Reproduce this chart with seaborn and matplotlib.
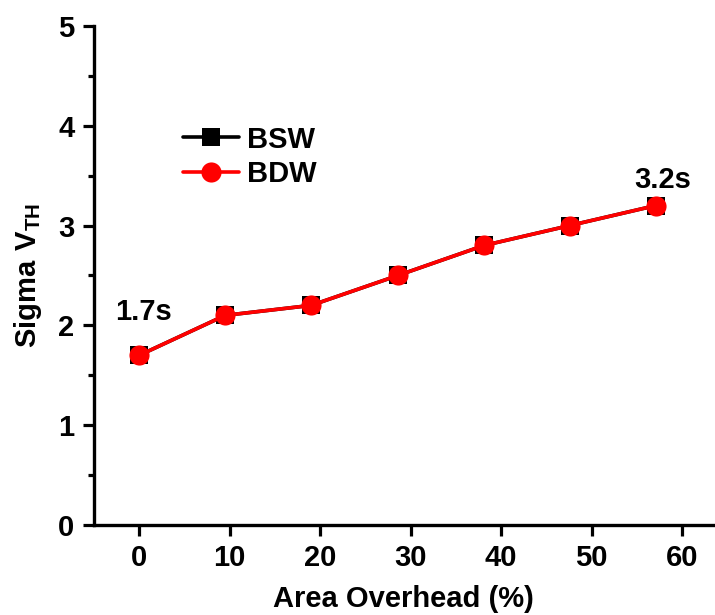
import numpy as np
import pandas as pd
import seaborn as sns
import matplotlib
matplotlib.use("Agg")
import matplotlib.pyplot as plt
from matplotlib.ticker import MultipleLocator

# data
area_overhead = [0, 9.5, 19.0, 28.6, 38.1, 47.6, 57.1]
sigma_bsw = [1.7, 2.1, 2.2, 2.5, 2.8, 3.0, 3.2]
sigma_bdw = [1.7, 2.1, 2.2, 2.5, 2.8, 3.0, 3.2]
series_names = ["BSW", "BDW"]
x_ticks = [0, 10, 20, 30, 40, 50, 60]
y_ticks = [0, 1, 2, 3, 4, 5]
notes = [("1.7s", 0.45, 2.13), ("3.2s", 57.9, 3.46)]

df = pd.DataFrame({
    "overhead": area_overhead * 2,
    "sigma": sigma_bsw + sigma_bdw,
    "series": [series_names[0]] * len(sigma_bsw) + [series_names[1]] * len(sigma_bdw),
})

sns.set_style("ticks")
plt.rcParams["font.family"] = ["Liberation Sans", "DejaVu Sans"]
plt.rcParams["font.weight"] = "bold"
plt.rcParams["mathtext.fontset"] = "custom"
plt.rcParams["mathtext.rm"] = "Liberation Sans"
plt.rcParams["mathtext.bf"] = "Liberation Sans:bold"
for k in ["text.color", "axes.labelcolor", "xtick.color", "ytick.color", "axes.edgecolor"]:
    plt.rcParams[k] = "black"

fs = 21

fig = plt.figure(figsize=(7.15, 6.15), dpi=100)
ax = fig.add_axes([0.1315, 0.1463, 0.8655, 0.8117])

sns.lineplot(data=df[df.series == "BSW"], x="overhead", y="sigma", ax=ax,
             color="black", marker="s", markersize=13, mec="black", mew=0,
             linewidth=2.6, label="BSW")
sns.lineplot(data=df[df.series == "BDW"], x="overhead", y="sigma", ax=ax,
             color="red", marker="o", markersize=14.5, mec="red", mew=0,
             linewidth=2.6, label="BDW")

for txt, xx, yy in notes:
    ax.text(xx, yy, txt, fontsize=fs, fontweight="bold", ha="center", va="center")

ax.set_xlim(-5, 63.4)
ax.set_ylim(0, 5)
ax.set_xticks(x_ticks)
ax.set_yticks(y_ticks)
ax.yaxis.set_minor_locator(MultipleLocator(0.5))
ax.tick_params(axis="both", which="major", labelsize=fs, length=8, width=2.3, pad=6)
ax.tick_params(axis="y", which="minor", length=4.5, width=2.3)
for lab in ax.get_xticklabels() + ax.get_yticklabels():
    lab.set_fontweight("bold")

sns.despine(ax=ax)
for s in ["left", "bottom"]:
    ax.spines[s].set_linewidth(2.4)

ax.set_xlabel("Area Overhead (%)", fontsize=fs, fontweight="bold", labelpad=9)
ax.set_ylabel(r"$\mathbf{Sigma\ V}_{\mathrm{TH}}$", fontsize=fs, labelpad=10)

ax.legend(loc="upper left", bbox_to_anchor=(0.144, 0.80), frameon=False,
          fontsize=fs, handlelength=1.9, handletextpad=0.3, labelspacing=0.22,
          borderpad=0, borderaxespad=0)

plt.savefig("out.png", dpi=100)
